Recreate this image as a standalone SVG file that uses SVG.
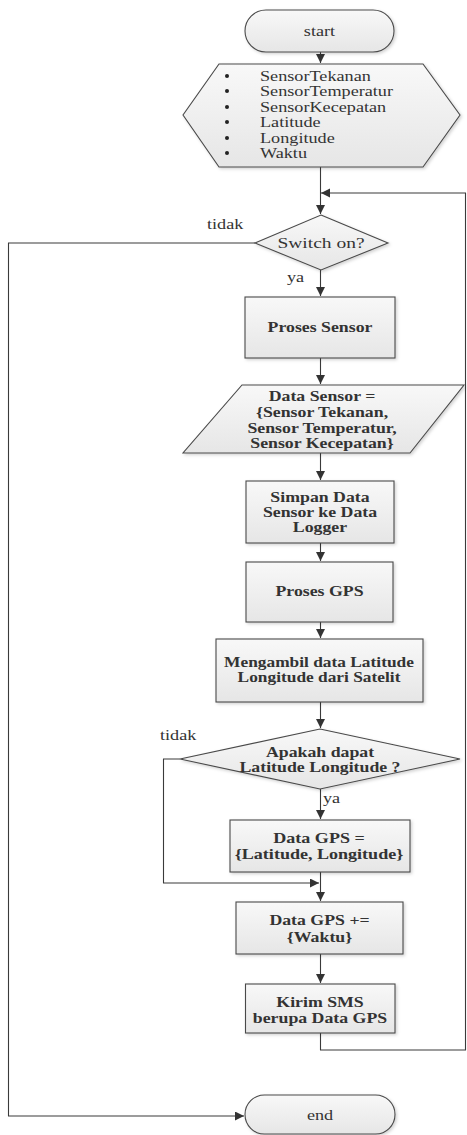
<svg xmlns="http://www.w3.org/2000/svg" width="467" height="1135" viewBox="0 0 467 1135">
<style>
.ln{stroke:#3a3a3a;stroke-width:1.1;fill:none}
.sh{fill:url(#gf);stroke:#4a4a4a;stroke-width:1.1;filter:url(#ds)}
.t{font-family:"Liberation Serif","Times New Roman",serif;font-size:14px;fill:#333;text-anchor:middle}
.l{text-anchor:start}
.b{font-weight:bold}
</style>
<defs>
<linearGradient id="gf" x1="0" y1="0" x2="0" y2="1">
<stop offset="0" stop-color="#f8f8f8"/>
<stop offset="1" stop-color="#e6e6e6"/>
</linearGradient>
<filter id="ds" x="-10%" y="-20%" width="130%" height="150%">
<feDropShadow dx="1.5" dy="1.5" stdDeviation="1.5" flood-color="#000" flood-opacity="0.18"/>
</filter>
<marker id="ah" markerUnits="userSpaceOnUse" markerWidth="10" markerHeight="10" refX="9" refY="4.5" orient="auto">
<path d="M0,0 L9,4.5 L0,9 z" fill="#333"/>
</marker>
</defs>

<g id="connectors">
<path class="ln" d="M320.5,52 V63" marker-end="url(#ah)"/>
<path class="ln" d="M320.5,167 V214" marker-end="url(#ah)"/>
<path class="ln" d="M320.5,1033 V1050 H465.5 V193 H321" marker-end="url(#ah)"/>
<path class="ln" d="M255,243 H8.5 V1116 H244" marker-end="url(#ah)"/>
<path class="ln" d="M320.5,270 V296" marker-end="url(#ah)"/>
<path class="ln" d="M320.5,358 V384" marker-end="url(#ah)"/>
<path class="ln" d="M320.5,453 V480" marker-end="url(#ah)"/>
<path class="ln" d="M320.5,543 V561" marker-end="url(#ah)"/>
<path class="ln" d="M320.5,622 V638" marker-end="url(#ah)"/>
<path class="ln" d="M320.5,702 V728" marker-end="url(#ah)"/>
<path class="ln" d="M320.5,789 V819" marker-end="url(#ah)"/>
<path class="ln" d="M320.5,872 V901" marker-end="url(#ah)"/>
<path class="ln" d="M180,759 H163.5 V883 H319" marker-end="url(#ah)"/>
<path class="ln" d="M320.5,954 V983" marker-end="url(#ah)"/>
<g transform="translate(207 0) scale(1.3 1)"><text class="t l" x="0" y="229">tidak</text></g>
<g transform="translate(287 0) scale(1.3 1)"><text class="t l" x="0" y="282">ya</text></g>
<g transform="translate(160 0) scale(1.3 1)"><text class="t l" x="0" y="740">tidak</text></g>
<g transform="translate(323 0) scale(1.3 1)"><text class="t l" x="0" y="803">ya</text></g>
</g>

<g id="start">
<rect class="sh" x="245" y="10" width="149" height="42" rx="21" ry="21"/>
<g transform="translate(319.5 0) scale(1.3 1)"><text class="t" x="0" y="36">start</text></g>
</g>

<g id="input">
<polygon class="sh" points="219,64 423,64 460,115 423,167 219,167 183,115"/>
<circle cx="227" cy="76" r="2" fill="#222"/>
<circle cx="227" cy="91" r="2" fill="#222"/>
<circle cx="227" cy="107" r="2" fill="#222"/>
<circle cx="227" cy="122" r="2" fill="#222"/>
<circle cx="227" cy="138" r="2" fill="#222"/>
<circle cx="227" cy="153" r="2" fill="#222"/>
<g transform="translate(260 0) scale(1.3 1)">
<text class="t l" x="0" y="81">SensorTekanan</text>
<text class="t l" x="0" y="96">SensorTemperatur</text>
<text class="t l" x="0" y="112">SensorKecepatan</text>
<text class="t l" x="0" y="127">Latitude</text>
<text class="t l" x="0" y="143">Longitude</text>
<text class="t l" x="0" y="158">Waktu</text>
</g>
</g>

<g id="switch">
<polygon class="sh" points="321,215 388,243 321,270 255,243"/>
<g transform="translate(321 0) scale(1.3 1)"><text class="t" x="0" y="248" style="font-size:15px">Switch on?</text></g>
</g>

<g id="proses-sensor">
<rect class="sh" x="245" y="297" width="150" height="61"/>
<g transform="translate(320 0) scale(1.27 1)"><text class="t b" x="0" y="332">Proses Sensor</text></g>
</g>

<g id="data-sensor">
<polygon class="sh" points="242,385 464,385 410,453 183,453"/>
<g transform="translate(322 0) scale(1.27 1)">
<text class="t b" x="0" y="401">Data Sensor =</text>
<text class="t b" x="0" y="417">{Sensor Tekanan,</text>
<text class="t b" x="0" y="433">Sensor Temperatur,</text>
<text class="t b" x="0" y="448">Sensor Kecepatan}</text>
</g>
</g>

<g id="simpan">
<rect class="sh" x="246" y="481" width="148" height="62"/>
<g transform="translate(320 0) scale(1.27 1)">
<text class="t b" x="0" y="502">Simpan Data</text>
<text class="t b" x="0" y="517">Sensor ke Data</text>
<text class="t b" x="0" y="532">Logger</text>
</g>
</g>

<g id="proses-gps">
<rect class="sh" x="246" y="562" width="147" height="60"/>
<g transform="translate(319.5 0) scale(1.27 1)"><text class="t b" x="0" y="596">Proses GPS</text></g>
</g>

<g id="mengambil">
<rect class="sh" x="216" y="639" width="207" height="63"/>
<g transform="translate(319 0) scale(1.24 1)">
<text class="t b" x="0" y="667">Mengambil data Latitude</text>
<text class="t b" x="0" y="682">Longitude dari Satelit</text>
</g>
</g>

<g id="apakah">
<polygon class="sh" points="320,729 460,759 320,789 180,759"/>
<g transform="translate(320 0) scale(1.27 1)">
<text class="t b" x="0" y="757">Apakah dapat</text>
<text class="t b" x="0" y="772">Latitude Longitude ?</text>
</g>
</g>

<g id="data-gps">
<rect class="sh" x="230" y="820" width="180" height="52"/>
<g transform="translate(319 0) scale(1.29 1)">
<text class="t b" x="0" y="843">Data GPS =</text>
<text class="t b" x="0" y="859">{Latitude, Longitude}</text>
</g>
</g>

<g id="data-gps-waktu">
<rect class="sh" x="236" y="902" width="167" height="52"/>
<g transform="translate(319.5 0) scale(1.27 1)">
<text class="t b" x="0" y="925">Data GPS +=</text>
<text class="t b" x="0" y="942">{Waktu}</text>
</g>
</g>

<g id="kirim">
<rect class="sh" x="245.5" y="984" width="149.5" height="49"/>
<g transform="translate(320 0) scale(1.27 1)">
<text class="t b" x="0" y="1007">Kirim SMS</text>
<text class="t b" x="0" y="1023">berupa Data GPS</text>
</g>
</g>

<g id="end">
<rect class="sh" x="245" y="1095" width="150" height="39" rx="19.5" ry="19.5"/>
<g transform="translate(320 0) scale(1.3 1)"><text class="t" x="0" y="1120">end</text></g>
</g>
</svg>
